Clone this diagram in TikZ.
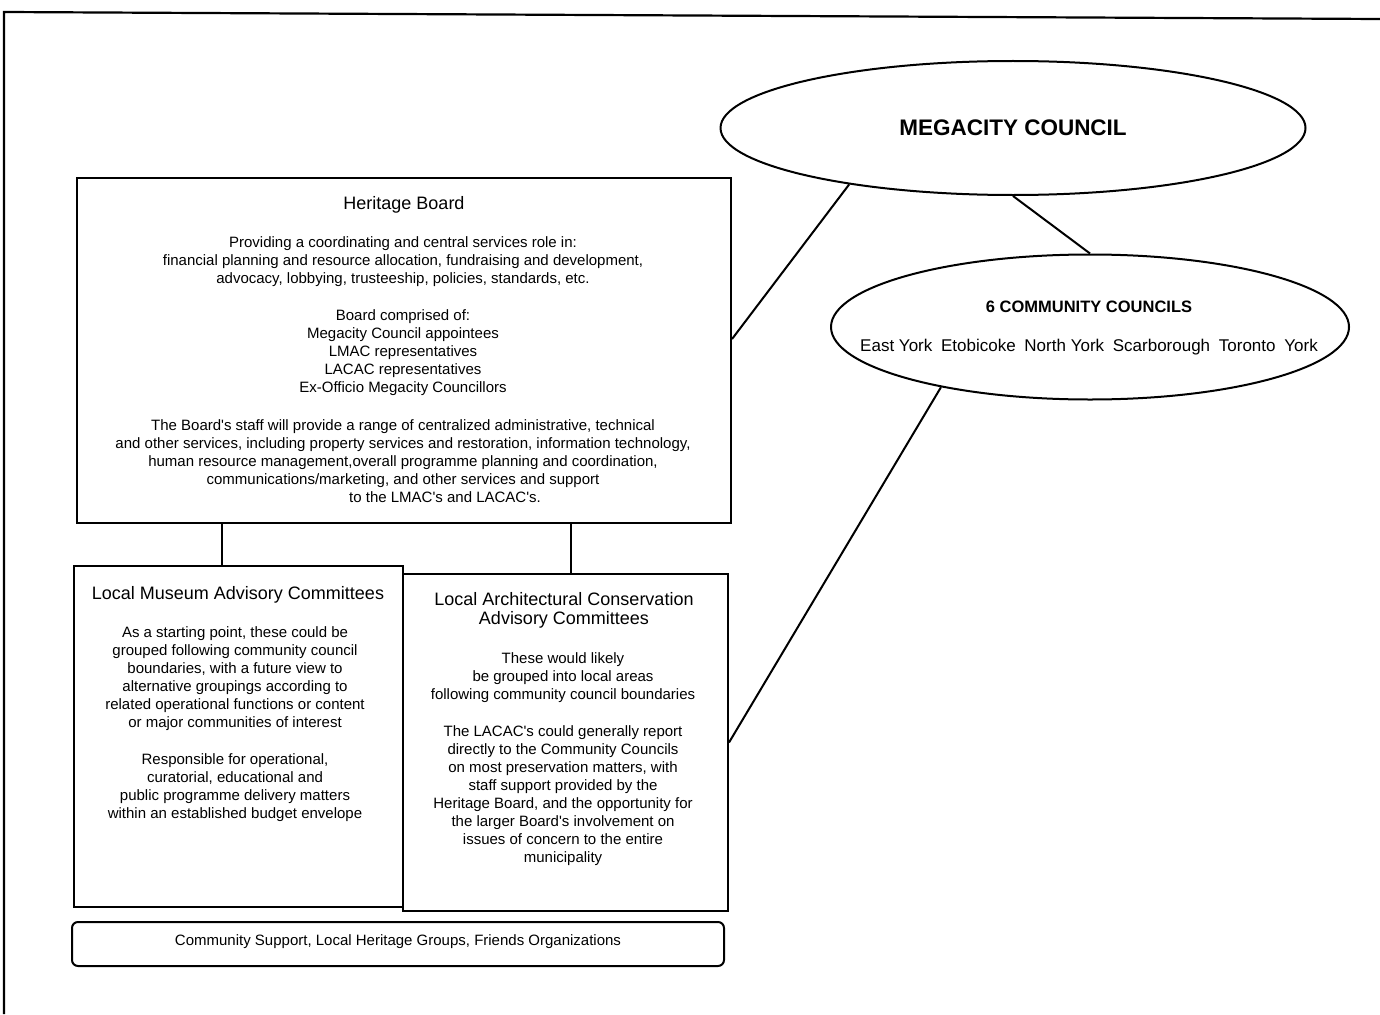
\documentclass[tikz,border=0pt]{standalone}
\usepackage{fontspec}
\setmainfont{Liberation Sans}
\usetikzlibrary{shapes.geometric,calc}
\newcommand\ccgap{\hspace{4pt}}
\newcommand\apos{\textquotesingle}
\begin{document}
\begin{tikzpicture}[x=1pt,y=-1pt,
  boxline/.style={draw, line width=2pt, inner sep=0pt, anchor=north west},
  oval/.style={draw, ellipse, line width=2pt, inner sep=0pt},
  link/.style={line width=2pt},
  body/.style={align=center, inner sep=0pt, font=\fontsize{15}{18}\selectfont},
  ttl/.style={align=center, inner sep=0pt, font=\fontsize{18}{19}\selectfont},
  ovaltxt/.style={inner sep=0pt, font=\fontsize{17}{20}\selectfont}]
\useasboundingbox (0,0) rectangle (1380,1014);
% scanned page frame
\coordinate (frameTL) at (4,12);
\coordinate (frameTR) at (1380,19);
\coordinate (frameBL) at (4,1014);
\draw[line width=2.2pt] (frameBL) -- (frameTL) -- (frameTR);

% ovals
\node[oval, minimum width=585pt, minimum height=134pt,
      font=\bfseries\fontsize{22.5}{26}\selectfont] (mega) at (1013,128) {MEGACITY COUNCIL};
\node[oval, minimum width=518pt, minimum height=145pt] (comm) at (1090,327) {};
\node[ovaltxt, font=\bfseries\fontsize{16.5}{20}\selectfont] (commt) at (1089,307) {6 COMMUNITY COUNCILS};
\node[ovaltxt] (commn) at (1089,347) {East York\ccgap{} Etobicoke\ccgap{} North York\ccgap{} Scarborough\ccgap{} Toronto\ccgap{} York};

% boxes
\node[boxline, minimum width=654pt, minimum height=345pt] (hb) at (76,177) {};
\node[boxline, minimum width=329pt, minimum height=341pt] (lmac) at (73,565) {};
\node[boxline, minimum width=325pt, minimum height=337pt] (lacac) at (402,573) {};
\node[draw, line width=2pt, rounded corners=6pt, minimum width=652pt,
      minimum height=44pt, inner sep=0pt] (comsup) at (398,944) {};

% Heritage Board text
\node[ttl] (hbt) at (404,205) {Heritage Board};
\node[body] (hbp1) at (403,262) {Providing a coordinating and central services role in:\\
financial planning and resource allocation, fundraising and development,\\
advocacy, lobbying, trusteeship, policies, standards, etc.};
\node[body] (hbp2) at (403,353) {Board comprised of:\\
Megacity Council appointees\\
LMAC representatives\\
LACAC representatives\\
Ex-Officio Megacity Councillors};
\node[body] (hbp3) at (403,461) {The Board\apos s staff will provide a range of centralized administrative, technical\\
and other services, including property services and restoration, information technology,\\
human resource management,overall programme planning and coordination,\\
communications/marketing, and other services and support\\
\hspace*{84pt}to the LMAC\apos s and LACAC\apos s.};

% LMAC text
\node[ttl] (lmact) at (238,595) {Local Museum Advisory Committees};
\node[body] (lmacp1) at (235,679) {As a starting point, these could be\\
grouped following community council\\
boundaries, with a future view to\\
alternative groupings according to\\
related operational functions or content\\
or major communities of interest};
\node[body] (lmacp2) at (235,788) {Responsible for operational,\\
curatorial, educational and\\
public programme delivery matters\\
within an established budget envelope};

% LACAC text
\node[ttl] (lacact) at (564,610.5) {Local Architectural Conservation\\Advisory Committees};
\node[body] (lacacp1) at (563,678) {These would likely\\
be grouped into local areas\\
following community council boundaries};
\node[body] (lacacp2) at (563,796) {The LACAC\apos s could generally report\\
directly to the Community Councils\\
on most preservation matters, with\\
staff support provided by the\\
Heritage Board, and the opportunity for\\
the larger Board\apos s involvement on\\
issues of concern to the entire\\
municipality};

% bottom box text
\node[body] (comsupt) at (398,942) {Community Support, Local Heritage Groups, Friends Organizations};

% connectors
\coordinate (leftdrop) at (222,0);
\coordinate (rightdrop) at (571,0);
\draw[link] (leftdrop |- hb.south) -- (leftdrop |- lmac.north);
\draw[link] (rightdrop |- hb.south) -- (rightdrop |- lacac.north);
\draw[link] (mega.south) -- (comm.north);
\draw[link] (mega.199) -- ($(hb.north east)!0.467!(hb.south east)$);
\draw[link] (comm.202) -- (lacac.east);
\end{tikzpicture}
\end{document}
